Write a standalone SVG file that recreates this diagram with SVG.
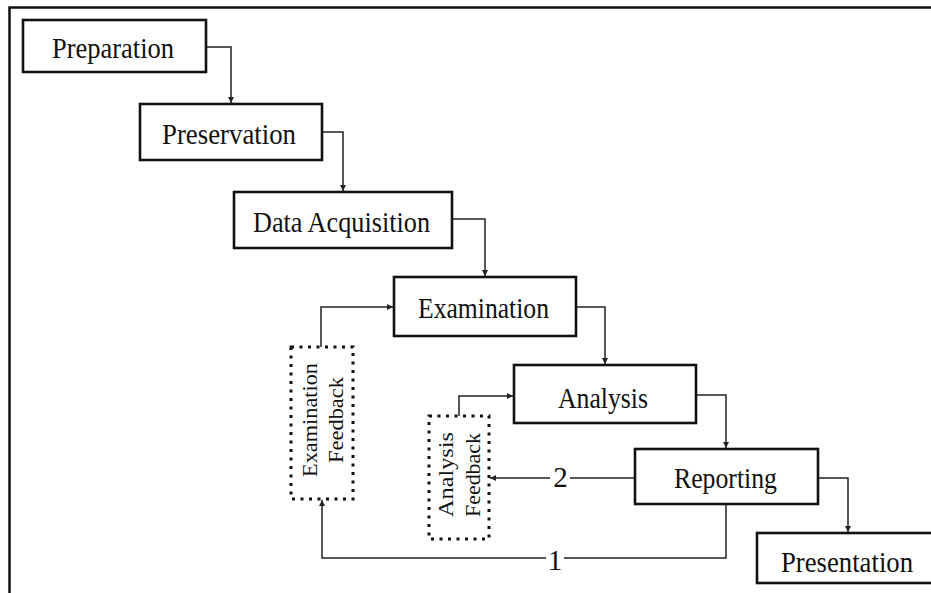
<svg xmlns="http://www.w3.org/2000/svg" width="931" height="593" viewBox="0 0 931 593">
<defs>
<style>
.box{fill:#fff;stroke:#111;stroke-width:2.6}
.dot{fill:#fff;stroke:#111;stroke-width:3;stroke-dasharray:3 5.5}
.lbl{font-family:"Liberation Serif","Times New Roman",serif;font-size:29px;fill:#111;text-anchor:middle}
.vl{font-family:"Liberation Serif","Times New Roman",serif;font-size:22px;fill:#111;text-anchor:middle}
.con{fill:none;stroke:#222;stroke-width:1.5}
</style>
<marker id="ah" markerUnits="userSpaceOnUse" markerWidth="7" markerHeight="6" refX="6" refY="3" orient="auto">
<path d="M0,0 L6,3 L0,6 z" fill="#222"/>
</marker>
</defs>
<rect width="931" height="593" fill="#fff"/>
<path d="M9.5,593 V7.5 H931" fill="none" stroke="#111" stroke-width="2.5"/>
<g id="connectors">
<path class="con" d="M206,47 H231 V103" marker-end="url(#ah)"/>
<path class="con" d="M322,132 H343 V191" marker-end="url(#ah)"/>
<path class="con" d="M452,219 H485 V276" marker-end="url(#ah)"/>
<path class="con" d="M576,307 H605 V364" marker-end="url(#ah)"/>
<path class="con" d="M696,395 H726 V448" marker-end="url(#ah)"/>
<path class="con" d="M818,478 H848 V532" marker-end="url(#ah)"/>
<path class="con" d="M321,347 V307 H393" marker-end="url(#ah)"/>
<path class="con" d="M459,416 V396 H513" marker-end="url(#ah)"/>
<path class="con" d="M635,478 H490" marker-end="url(#ah)"/>
<path class="con" d="M726,504 V558 H322 V500" marker-end="url(#ah)"/>
<rect x="550" y="466" width="20" height="24" fill="#fff"/>
<text class="lbl" x="560.5" y="487">2</text>
<rect x="546" y="546" width="18" height="24" fill="#fff"/>
<text class="lbl" x="555" y="570">1</text>
</g>
<g id="preparation">
<rect class="box" x="23" y="20" width="183" height="52"/>
<text class="lbl" x="113" y="58" textLength="122" lengthAdjust="spacingAndGlyphs">Preparation</text>
</g>
<g id="preservation">
<rect class="box" x="140" y="104" width="182" height="56"/>
<text class="lbl" x="229" y="144" textLength="134" lengthAdjust="spacingAndGlyphs">Preservation</text>
</g>
<g id="data-acquisition">
<rect class="box" x="234" y="192" width="218" height="56"/>
<text class="lbl" x="341.5" y="232" textLength="177" lengthAdjust="spacingAndGlyphs">Data Acquisition</text>
</g>
<g id="examination">
<rect class="box" x="394" y="277" width="182" height="59"/>
<text class="lbl" x="483.5" y="318" textLength="131" lengthAdjust="spacingAndGlyphs">Examination</text>
</g>
<g id="analysis">
<rect class="box" x="514" y="365" width="182" height="58"/>
<text class="lbl" x="603" y="408" textLength="90" lengthAdjust="spacingAndGlyphs">Analysis</text>
</g>
<g id="reporting">
<rect class="box" x="635" y="449" width="183" height="55"/>
<text class="lbl" x="725.5" y="488" textLength="103" lengthAdjust="spacingAndGlyphs">Reporting</text>
</g>
<g id="presentation">
<rect class="box" x="757" y="533" width="190" height="50"/>
<text class="lbl" x="847" y="572" textLength="132" lengthAdjust="spacingAndGlyphs">Presentation</text>
</g>
<g id="examination-feedback">
<rect class="dot" x="291" y="347" width="62" height="152"/>
<text class="vl" transform="translate(317,420) rotate(-90)" x="0" y="0" textLength="114" lengthAdjust="spacingAndGlyphs">Examination</text>
<text class="vl" transform="translate(343,420) rotate(-90)" x="0" y="0" textLength="86" lengthAdjust="spacingAndGlyphs">Feedback</text>
</g>
<g id="analysis-feedback">
<rect class="dot" x="429" y="416" width="60" height="123"/>
<text class="vl" transform="translate(453,474.5) rotate(-90)" x="0" y="0" textLength="85" lengthAdjust="spacingAndGlyphs">Analysis</text>
<text class="vl" transform="translate(480,475) rotate(-90)" x="0" y="0" textLength="84" lengthAdjust="spacingAndGlyphs">Feedback</text>
</g>
</svg>
